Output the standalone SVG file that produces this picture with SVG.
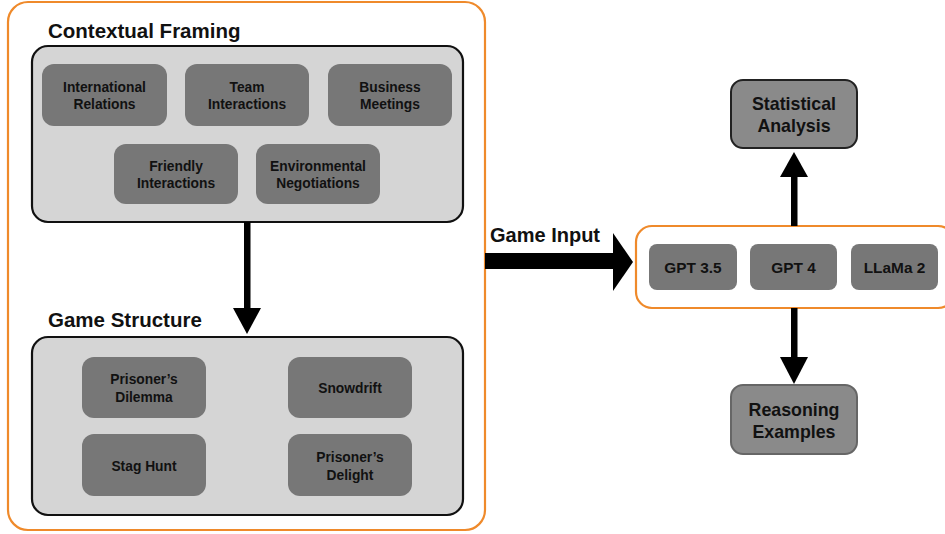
<svg xmlns="http://www.w3.org/2000/svg" width="945" height="534" viewBox="0 0 945 534">
<defs>
<style>
text{font-family:"Liberation Sans",Arial,Helvetica,sans-serif;font-weight:bold;fill:#111;text-anchor:middle}
.title{font-size:20.5px;text-anchor:start}
.panel{fill:#d5d5d5;stroke:#111;stroke-width:2.2}
.node{fill:#777777}
.nt{font-size:13.8px}
.gt{font-size:15.4px}
.out{fill:#8a8a8a;stroke:#222;stroke-width:2}
.ot{font-size:17.8px}
.orange{fill:#fff;stroke:#ef8a2b;stroke-width:2.2}
</style>
</defs>
<rect x="8" y="2" width="477" height="528" rx="20" class="orange"/>
<g id="contextual-framing">
<text class="title" x="48" y="38">Contextual Framing</text>
<rect class="panel" x="32" y="46" width="431" height="176" rx="16"/>
</g>
<g id="international-relations"><rect class="node" x="42" y="64" width="125" height="62" rx="12"/><text class="nt" x="104.5" y="92">International</text><text class="nt" x="104.5" y="109">Relations</text></g>
<g id="team-interactions"><rect class="node" x="185" y="64" width="124" height="62" rx="12"/><text class="nt" x="247" y="92">Team</text><text class="nt" x="247" y="109">Interactions</text></g>
<g id="business-meetings"><rect class="node" x="328" y="64" width="124" height="62" rx="12"/><text class="nt" x="390" y="92">Business</text><text class="nt" x="390" y="109">Meetings</text></g>
<g id="friendly-interactions"><rect class="node" x="114" y="144" width="124" height="60" rx="12"/><text class="nt" x="176" y="171">Friendly</text><text class="nt" x="176" y="188">Interactions</text></g>
<g id="environmental-negotiations"><rect class="node" x="256" y="144" width="124" height="60" rx="12"/><text class="nt" x="318" y="171">Environmental</text><text class="nt" x="318" y="188">Negotiations</text></g>
<g id="game-structure">
<text class="title" x="48" y="327">Game Structure</text>
<rect class="panel" x="32" y="337" width="431" height="178" rx="16"/>
</g>
<g id="prisoners-dilemma"><rect class="node" x="82" y="357" width="124" height="61" rx="12"/><text class="nt" x="144" y="384">Prisoner’s</text><text class="nt" x="144" y="402">Dilemma</text></g>
<g id="snowdrift"><rect class="node" x="288" y="357" width="124" height="61" rx="12"/><text class="nt" x="350" y="393">Snowdrift</text></g>
<g id="stag-hunt"><rect class="node" x="82" y="434" width="124" height="62" rx="12"/><text class="nt" x="144" y="471">Stag Hunt</text></g>
<g id="prisoners-delight"><rect class="node" x="288" y="434" width="124" height="62" rx="12"/><text class="nt" x="350" y="462">Prisoner’s</text><text class="nt" x="350" y="480">Delight</text></g>
<g id="llms">
<rect class="orange" x="636" y="226" width="318" height="82" rx="16"/>
</g>
<g id="gpt35"><rect class="node" x="649" y="244" width="88" height="46" rx="8"/><text class="gt" x="693" y="273">GPT 3.5</text></g>
<g id="gpt4"><rect class="node" x="750" y="244" width="87" height="46" rx="8"/><text class="gt" x="793.5" y="273">GPT 4</text></g>
<g id="llama2"><rect class="node" x="851" y="244" width="87" height="46" rx="8"/><text class="gt" x="894.5" y="273">LLaMa 2</text></g>
<g id="statistical-analysis"><rect class="out" x="731" y="80" width="126" height="68" rx="12"/><text class="ot" x="794" y="110">Statistical</text><text class="ot" x="794" y="132">Analysis</text></g>
<g id="reasoning-examples"><rect class="out" x="731" y="385" width="126" height="69" rx="12" style="stroke:#666"/><text class="ot" x="794" y="416">Reasoning</text><text class="ot" x="794" y="438">Examples</text></g>
<g id="connectors">
<rect x="244" y="222" width="6.5" height="88" fill="#000"/>
<polygon points="233,308 261,308 247,334" fill="#000"/>
<rect x="485" y="253" width="130" height="16" fill="#000"/>
<polygon points="613,233 633,262 613,291" fill="#000"/>
<text class="title" x="490" y="242" style="font-size:20px">Game Input</text>
<rect x="791" y="174" width="6.5" height="52" fill="#000"/>
<polygon points="780,177 808,177 794,152" fill="#000"/>
<rect x="791" y="308" width="6.5" height="52" fill="#000"/>
<polygon points="780,357 808,357 794,384" fill="#000"/>
</g>
</svg>
